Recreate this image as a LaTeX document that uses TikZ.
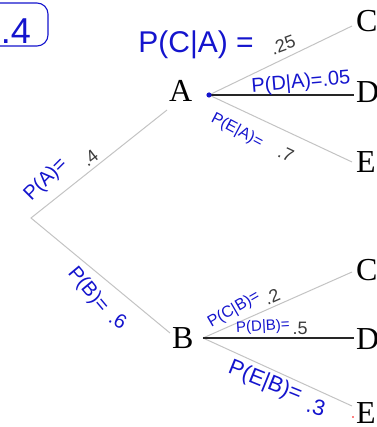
\documentclass[tikz,border=0pt]{standalone}
\usepackage{fontspec}
\setmainfont{Liberation Serif}
\newfontfamily\handfont{Liberation Sans}
\definecolor{ink}{RGB}{20,20,205}
\definecolor{branch}{RGB}{195,195,195}
\definecolor{printed}{RGB}{60,60,60}
\tikzset{
  letter/.style={inner sep=0pt, anchor=base west, font=\fontsize{32}{32}\selectfont},
  hand/.style={inner sep=0pt, text=ink, font=\handfont\fontsize{#1}{#1}\selectfont},
  num/.style={inner sep=0pt, text=printed, font=\handfont\fontsize{18}{18}\selectfont},
  grayline/.style={draw=branch, line width=1pt},
  darkline/.style={draw=black!85, line width=1.4pt}
}
\begin{document}
\begin{tikzpicture}[x=1pt,y=-1pt]
\useasboundingbox (0,0) rectangle (376,427);
% letters
\node[letter] (A) at (169,102) {A};
\node[letter] (B) at (172,348) {B};
\node[letter] (C1) at (356,32) {C};
\node[letter] (D1) at (356,103) {D};
\node[letter] (E1) at (356,173) {E};
\node[letter] (C2) at (356,280) {C};
\node[letter] (D2) at (356,349) {D};
\node[letter] (E2) at (356,423) {E};
% connector end points
\coordinate (root) at (31,218);
\coordinate (Ain) at (167,110);
\coordinate (Bin) at (170,333);
\coordinate (Aout) at (209,95);
\coordinate (Bout) at (203,338);
\coordinate (C1in) at (352,26);
\coordinate (D1in) at (354,95);
\coordinate (E1in) at (352,162);
\coordinate (C2in) at (352,272);
\coordinate (D2in) at (354,338);
\coordinate (E2in) at (352,406);
% branches
\draw[grayline] (Ain) -- (root) -- (Bin);
\draw[grayline] (Aout) -- (C1in);
\draw[grayline] (Aout) -- (E1in);
\draw[darkline] (Aout) -- (D1in);
\draw[grayline] (Bout) -- (C2in);
\draw[grayline] (Bout) -- (E2in);
\draw[darkline] (Bout) -- (D2in);
\fill[ink] (Aout) circle[radius=2.6];
\fill[red] (353,417) circle[radius=0.9];
% top-left box
\draw[ink, line width=1.1pt, rounded corners=11pt] (-20,3) rectangle (48,46);
\node[hand=36, anchor=base east] (boxtxt) at (31,44) {.4};
% printed numbers
\node[num, rotate=20] (n25) at (283,45) {.25};
\node[num, rotate=-25] (n7) at (286,154) {.7};
\node[num, rotate=38] (n4) at (90,158) {.4};
\node[num, rotate=24] (n2) at (272,297) {.2};
\node[num] (n5) at (300,328) {.5};
% handwritten labels
\node[hand=30] (pca) at (196,45) {P(C|A) =};
\node[hand=20, rotate=5] (pda) at (301,83) {P(D|A)=.05};
\node[hand=16, rotate=-28] (pea) at (237,131) {P(E|A)=};
\node[hand=20, rotate=45] (pa) at (46,180) {P(A)=};
\node[hand=20, rotate=-50] (pb) at (88,290) {P(B)=};
\node[hand=20, rotate=-30] (p6) at (118,320) {.6};
\node[hand=16, rotate=30] (pcb) at (234,310) {P(C|B)=};
\node[hand=15, rotate=3] (pdb) at (263,327) {P(D|B)=};
\node[hand=22, rotate=-22] (peb) at (265,382) {P(E|B)=};
\node[hand=22, rotate=-15] (p3) at (316,407) {.3};
\end{tikzpicture}
\end{document}
